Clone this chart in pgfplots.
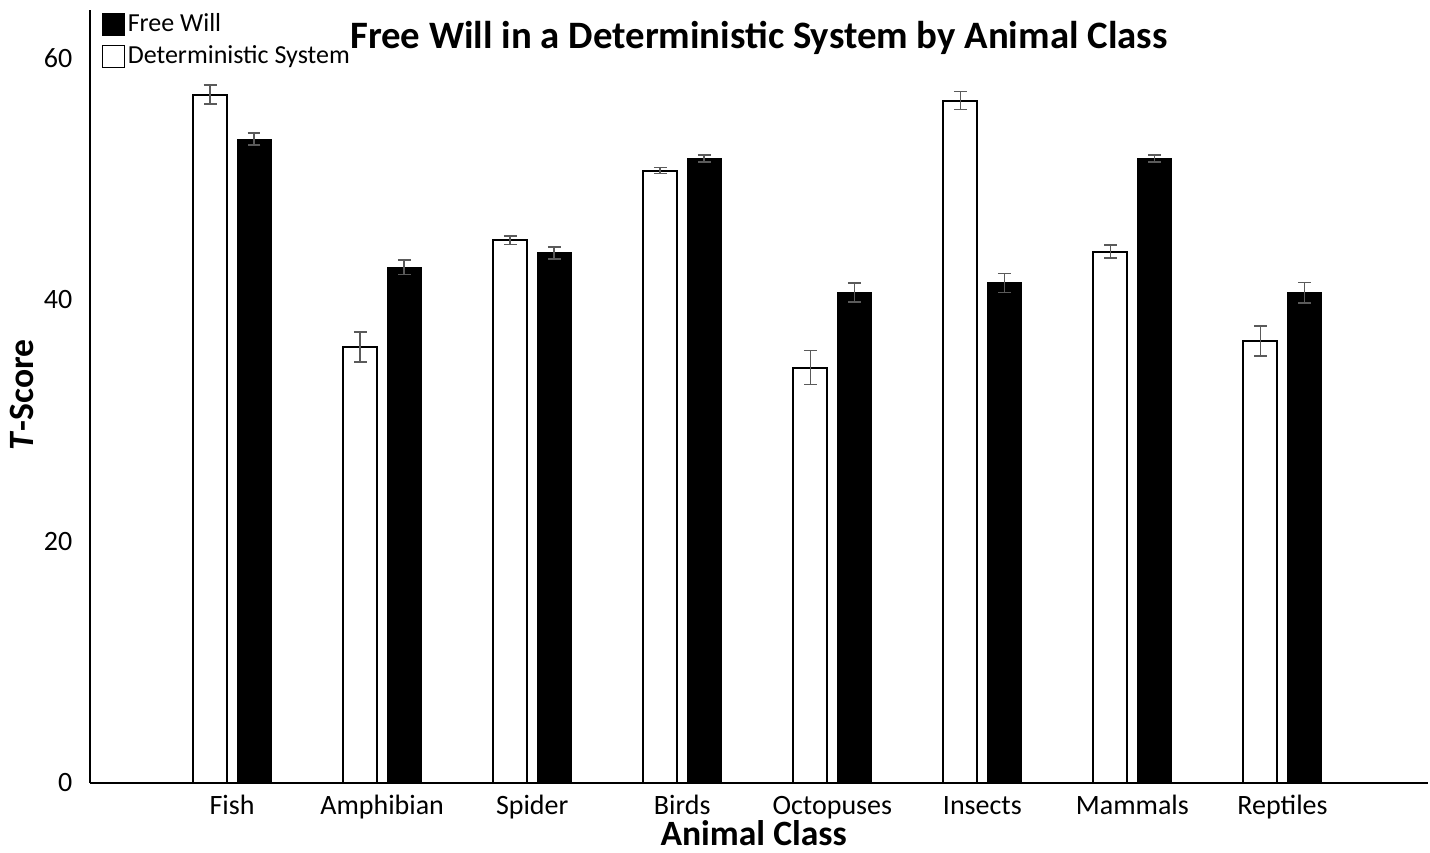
\documentclass[border=0pt]{standalone}
\usepackage{pgfplots}
\pgfplotsset{compat=1.18}
\usepackage{fontspec}
\setmainfont{Carlito}

\definecolor{errgray}{RGB}{90,90,90}

\begin{document}
\begin{tikzpicture}
\fontsize{14}{17}\selectfont
\begin{axis}[
  width=669pt, height=386.5pt,
  scale only axis,
  xmin=-0.947, xmax=7.97,
  ymin=0, ymax=64,
  axis lines=left,
  axis line style={line width=1.3pt, -},
  xtick={0,1,2,3,4,5,6,7},
  xticklabels={Fish,Amphibian,Spider,Birds,Octopuses,Insects,Mammals,Reptiles},
  ytick={0,20,40,60},
  major tick length=0pt,
  /pgf/number format/assume math mode=true,
  ticklabel style={font=\fontsize{14}{17}\selectfont},
  xticklabel style={yshift=-1pt, text height=10pt, text depth=3pt},
  yticklabel style={xshift=-4pt},
  xlabel={\textbf{Animal Class}},
  ylabel={\textbf{\textit{T}-Score}},
  label style={font=\fontsize{17.8}{21}\selectfont},
  xlabel style={at={(axis description cs:0.496,-0.065)}, anchor=center},
  ylabel style={at={(axis description cs:-0.051,0.502)}, anchor=center},
  title={\textbf{Free Will in a Deterministic System by Animal Class}},
  title style={font=\fontsize{19.4}{23}\selectfont, at={(axis description cs:0.5,0.948)}, anchor=center},
  bar width=17pt,
  legend style={at={(axis description cs:0.0085,1)}, anchor=north west,
    draw=none, fill=none, inner xsep=0pt, inner ysep=0pt,
    font=\fontsize{13}{15.5}\selectfont,
    row sep=2pt,
    nodes={inner sep=1.5pt}},
  legend cell align=left,
  error bars/y dir=both,
  error bars/y explicit,
  error bars/error bar style={errgray, line width=0.8pt},
  error bars/error mark options={errgray, line width=0.8pt, mark size=3.2pt, rotate=90},
]
\addlegendimage{legend image code/.code={\draw[fill=black,draw=black] (0pt,-5.5pt) rectangle (11pt,5.5pt);}}
\addlegendentry{Free Will}
\addlegendimage{legend image code/.code={\draw[fill=white,draw=black,line width=0.5pt] (0pt,-5.5pt) rectangle (11pt,5.5pt);}}
\addlegendentry{Deterministic System}

% Deterministic System (white)
\addplot[ybar, bar shift=0pt, fill=white, draw=black, line width=1pt, forget plot]
  coordinates {(-0.1466,57.0) +- (0,0.8) (0.8534,36.1) +- (0,1.25) (1.8534,44.95) +- (0,0.35) (2.8534,50.7) +- (0,0.25)
               (3.8534,34.4) +- (0,1.4) (4.8534,56.5) +- (0,0.75) (5.8534,44.0) +- (0,0.55) (6.8534,36.6) +- (0,1.25)};
% Free Will (black)
\addplot[ybar, bar shift=0pt, fill=black, draw=black, line width=0.5pt, forget plot]
  coordinates {(0.1466,53.3) +- (0,0.5) (1.1466,42.7) +- (0,0.6) (2.1466,43.9) +- (0,0.5) (3.1466,51.7) +- (0,0.3)
               (4.1466,40.6) +- (0,0.8) (5.1466,41.4) +- (0,0.8) (6.1466,51.7) +- (0,0.3) (7.1466,40.6) +- (0,0.85)};
\end{axis}
\pgfresetboundingbox
\path[use as bounding box] (-45pt,-34.5pt) rectangle (670pt,391.5pt);
\end{tikzpicture}
\end{document}
